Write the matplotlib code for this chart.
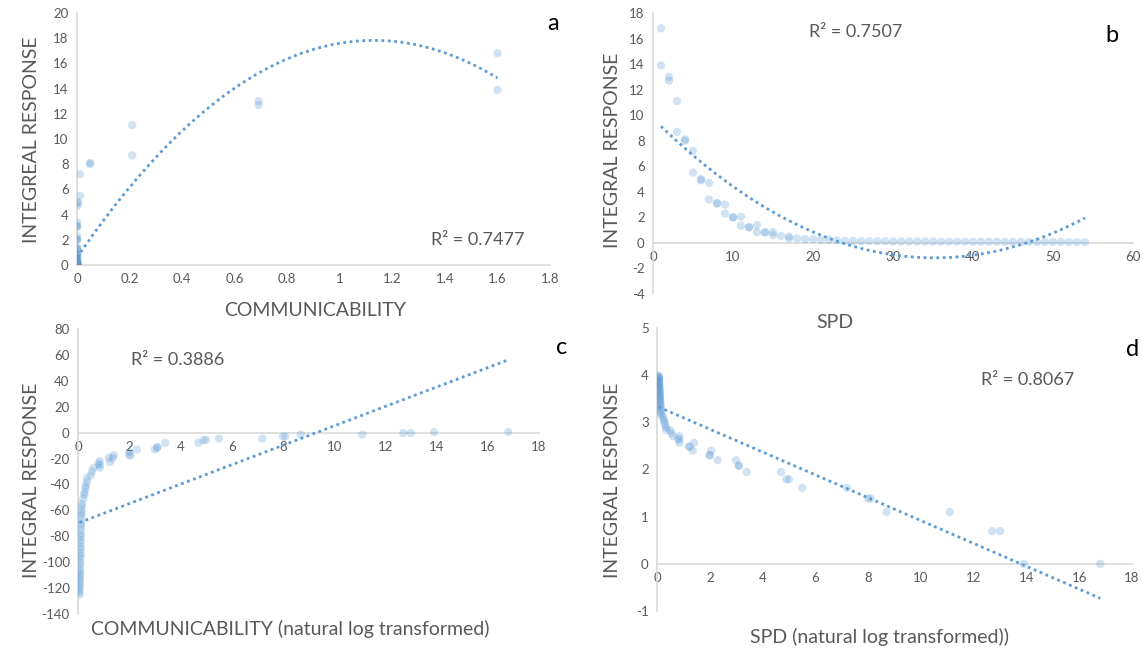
import numpy as np
import matplotlib
matplotlib.use("Agg")
import matplotlib.pyplot as plt
from matplotlib.ticker import FuncFormatter

plt.rcParams["font.family"] = ["Lato", "DejaVu Sans"]

# one row per observation: shortest path distance, integral response, ln(communicability)
spd = [1, 1, 2, 2, 3, 3, 4, 4, 5, 5, 6, 6, 7, 7, 8, 8, 9, 9, 10, 10,
       11, 11, 12, 12, 13, 13, 14, 14, 15, 15, 16, 17, 17, 18, 19, 20, 21, 22, 23,
       24, 25, 26, 27, 28, 29, 30, 31, 32, 33, 34, 35, 36, 37, 38, 39,
       40, 41, 42, 43, 44, 45, 46, 47, 48, 49, 50, 51, 52, 53, 54]
integral = [16.8, 13.9, 13.0, 12.7, 11.1, 8.7, 8.1, 8.0, 7.2, 5.5, 5.0, 4.9, 4.7, 3.4,
            3.1, 3.1, 3.0, 2.3, 2.0, 2.0, 2.05, 1.35, 1.2, 1.25, 1.4, 0.85, 0.85, 0.8,
            0.85, 0.6, 0.55, 0.5, 0.35, 0.35, 0.3, 0.3, 0.25, 0.25, 0.2,
            0.15, 0.15, 0.14, 0.14, 0.13, 0.13, 0.12, 0.12, 0.12, 0.11, 0.11, 0.11,
            0.1, 0.1, 0.1, 0.1, 0.09, 0.09, 0.09, 0.09, 0.08, 0.08, 0.08, 0.08,
            0.07, 0.07, 0.07, 0.07, 0.06, 0.06, 0.06]
ln_comm = [0.47, 0.47, -0.37, -0.37, -1.56, -1.56, -3.0, -3.0, -4.5, -4.5, -5.7, -5.7,
           -7.8, -7.8, -11.7, -11.0, -13.0, -13.0, -14.8, -17.4, -17.4, -19.5, -19.5,
           -22.6, -17.4, -22.0, -25.0, -24.0, -27.0, -27.0, -30.0, -33.0, -35.0, -38.0,
           -41.0, -43.0, -46.0, -48.0, -51.0,
           -55, -57, -60, -62, -64, -67, -70, -72, -75, -78, -80, -83, -85, -88,
           -90, -93, -95, -97, -100, -102, -105, -107, -109, -111, -113, -115,
           -117, -119, -121, -123, -125]

# trendline coefficients (highest power first) and R^2 as printed by Excel
trend_a = [-13.5, 30.5, 0.6]
trend_b = [0.00882, -0.6204, 9.74]
trend_c = [7.5, -69.8]
trend_d = [-0.2423, 3.34]
r2_labels = ["R² = 0.7477", "R² = 0.7507", "R² = 0.3886", "R² = 0.8067"]

spd = np.array(spd, dtype=float)
integral = np.array(integral)
ln_comm = np.array(ln_comm)
comm = np.exp(ln_comm)
ln_spd = np.log(spd)

W, H = 1143, 649
BLUE = "#5B9BD5"
GREY = "#595959"
AXC = "#d9d9d9"

fig = plt.figure(figsize=(W / 100, H / 100), dpi=100)


def px_axes(left, top, right, bottom):
    return fig.add_axes([left / W, 1 - bottom / H, (right - left) / W, (bottom - top) / H])


def fig_text(x, y, s, **kw):
    fig.text(x / W, 1 - y / H, s, ha="center", va="center", **kw)


def style(ax, xlim, xstep, ylim, ystep):
    ax.set_xlim(*xlim)
    ax.set_ylim(*ylim)
    ax.set_xticks(np.arange(xlim[0], xlim[1] + xstep / 2, xstep))
    ax.set_yticks(np.arange(ylim[0], ylim[1] + ystep / 2, ystep))
    fmt = FuncFormatter(lambda v, p: "%g" % round(v, 6))
    ax.xaxis.set_major_formatter(fmt)
    ax.yaxis.set_major_formatter(fmt)
    for s in ["top", "right"]:
        ax.spines[s].set_visible(False)
    ax.spines["left"].set_color(AXC)
    ax.spines["bottom"].set_color(AXC)
    ax.spines["bottom"].set_position(("data", 0))
    ax.spines["left"].set_linewidth(1.2)
    ax.spines["bottom"].set_linewidth(1.2)
    ax.tick_params(length=0, labelsize=9.5, labelcolor=GREY, pad=6)
    ax.patch.set_visible(False)


def scatter_trend(ax, x, y, coef):
    ax.scatter(x, y, s=36, color=BLUE, alpha=0.28, edgecolors="none", zorder=3)
    xs = np.linspace(x.min(), x.max(), 200)
    ax.plot(xs, np.polyval(coef, xs), color=BLUE, lw=2,
            linestyle=(0, (1, 1.3)), dash_capstyle="butt", zorder=4)


# a
ax = px_axes(77, 13, 550, 265)
scatter_trend(ax, comm, integral, trend_a)
style(ax, (0, 1.8), 0.2, (0, 20), 2)
fig_text(32, 140, "INTEGREAL RESPONSE", rotation=90, fontsize=14, color=GREY)
fig_text(315, 311, "COMMUNICABILITY", fontsize=14, color=GREY)
fig_text(478, 240, r2_labels[0], fontsize=13, color=GREY)
fig_text(553, 23, "a", fontsize=17, color="black")

# b
ax = px_axes(653, 13, 1133, 294)
scatter_trend(ax, spd, integral, trend_b)
style(ax, (0, 60), 10, (-4, 18), 2)
fig_text(612, 150, "INTEGRAL RESPONSE", rotation=90, fontsize=14, color=GREY)
fig_text(835, 322, "SPD", fontsize=14, color=GREY)
fig_text(856, 32, r2_labels[1], fontsize=13, color=GREY)
fig_text(1112, 35, "b", fontsize=17, color="black")

# c
ax = px_axes(78, 329, 539, 614)
scatter_trend(ax, integral, ln_comm, trend_c)
style(ax, (0, 18), 2, (-140, 80), 20)
fig_text(32, 480, "INTEGRAL RESPONSE", rotation=90, fontsize=14, color=GREY)
fig_text(290, 629, "COMMUNICABILITY (natural log transformed)", fontsize=14, color=GREY)
fig_text(178, 360, r2_labels[2], fontsize=13, color=GREY)
fig_text(562, 347, "c", fontsize=17, color="black")

# d
ax = px_axes(657, 328, 1132, 611)
scatter_trend(ax, integral, ln_spd, trend_d)
style(ax, (0, 18), 2, (-1, 5), 1)
fig_text(612, 480, "INTEGRAL RESPONSE", rotation=90, fontsize=14, color=GREY)
fig_text(880, 637, "SPD (natural log transformed))", fontsize=14, color=GREY)
fig_text(1028, 380, r2_labels[3], fontsize=13, color=GREY)
fig_text(1133, 350, "d", fontsize=17, color="black")

fig.savefig("out.png", dpi=100)
